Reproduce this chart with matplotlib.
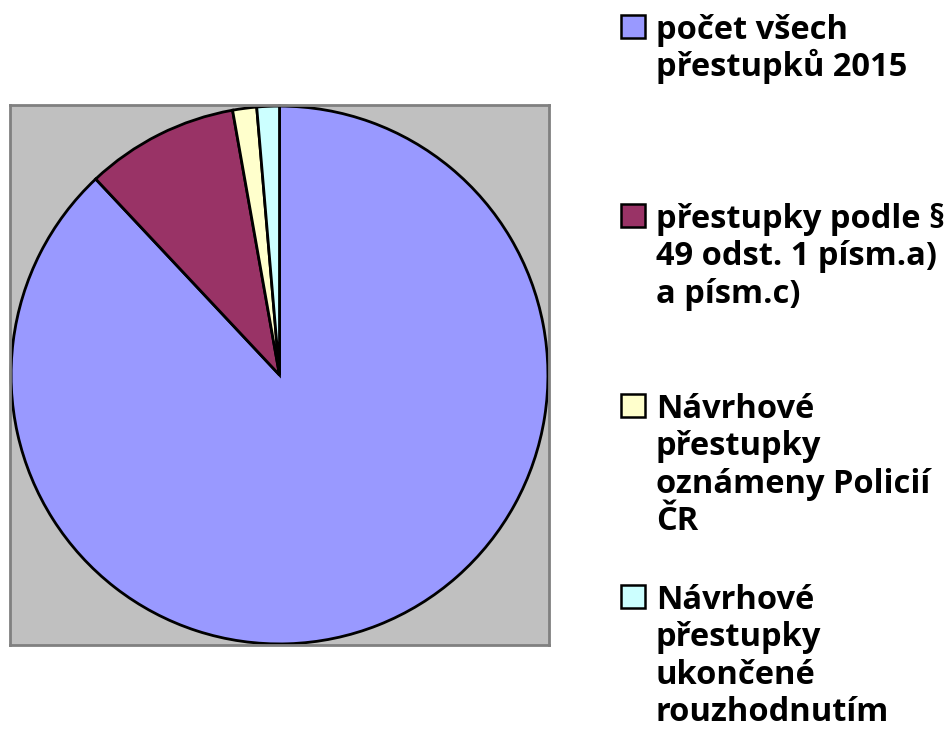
import matplotlib.pyplot as plt
from matplotlib.patches import Rectangle

labels = [
    ["počet všech", "přestupků 2015"],
    ["přestupky podle §", "49 odst. 1 písm.a)", "a písm.c)"],
    ["Návrhové", "přestupky", "oznámeny Policií", "ČR"],
    ["Návrhové", "přestupky", "ukončené", "rouzhodnutím"],
]
values = [1950, 204, 32, 30]
colors = ["#9999FF", "#993366", "#FFFFCC", "#CCFFFF"]

# baseline of each legend entry's first line (pixels from top)
legend_base = [39, 228, 418, 609]
line_step = 37.3

W, H = 947, 746
fig = plt.figure(figsize=(W / 100, H / 100), dpi=100)
ax = fig.add_axes([10 / W, (H - 645) / H, 539 / W, 540 / H])

ax.pie(values, colors=colors, startangle=90, counterclock=False, radius=1,
       frame=True, wedgeprops=dict(edgecolor="black", linewidth=2))
ax.set_facecolor("#C0C0C0")
for s in ax.spines.values():
    s.set_color("#808080")
    s.set_linewidth(2)
ax.set_xlim(-1.004, 1.004)
ax.set_ylim(-1.004, 1.004)
ax.set_aspect("auto")
ax.set_xticks([])
ax.set_yticks([])

for lines, col, yb in zip(labels, colors, legend_base):
    fig.patches.append(Rectangle((621 / W, 1 - (yb - 1) / H), 24 / W, 23 / H,
                                 transform=fig.transFigure, facecolor=col,
                                 edgecolor="black", linewidth=1.8))
    for i, txt in enumerate(lines):
        fig.text(656 / W, 1 - (yb + i * line_step) / H, txt, ha="left",
                 va="baseline", fontsize=23.5, fontweight="bold",
                 family="Open Sans")

fig.savefig("out.png", dpi=100)
